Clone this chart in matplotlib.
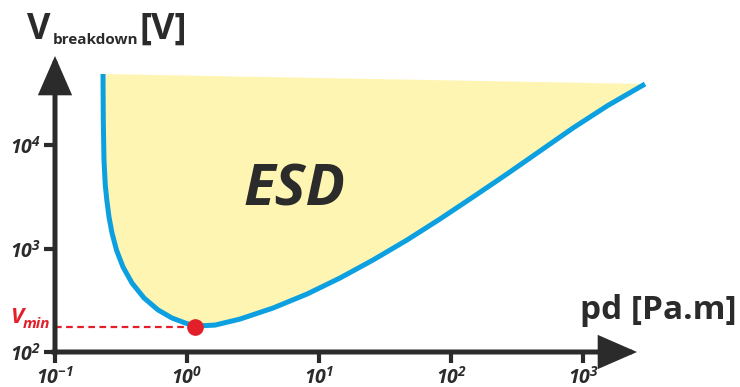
import matplotlib.pyplot as plt

plt.rcParams['font.family'] = ['Open Sans', 'DejaVu Sans']
plt.rcParams['mathtext.fontset'] = 'custom'
plt.rcParams['mathtext.bf'] = 'Open Sans:bold:italic'
plt.rcParams['mathtext.it'] = 'Open Sans:bold:italic'
plt.rcParams['mathtext.rm'] = 'Open Sans:bold:italic'

# Paschen curve, values (pd in Pa.m, V in volt)
pd_vals = [0.2310, 0.2322, 0.2350, 0.2404, 0.2469, 0.2565, 0.2703, 0.2922, 0.3275,
           0.3831, 0.4723, 0.6030, 0.7697, 0.9656, 1.150,
           1.630, 2.520, 4.483, 8.113, 14.43, 25.66, 46.42, 82.54, 146.8, 265.6,
           472.3, 840.0, 1520, 2950]
v_vals = [48530, 17440, 7163, 4107, 2942, 2015, 1412, 967, 663,
          464, 333, 255, 213, 191, 178,
          182, 208, 266, 363, 519, 774, 1208, 1928, 3146, 5247,
          8750, 14600, 23820, 38860]

vmin_pd = 1.15
vmin_v = 175

xticks = [0.1, 1, 10, 100, 1000]
xlabels = [r'$\mathbf{10^{-1}}$', r'$\mathbf{10^{0}}$', r'$\mathbf{10^{1}}$',
           r'$\mathbf{10^{2}}$', r'$\mathbf{10^{3}}$']
yticks = [100, 1000, 10000]
ylabels = [r'$\mathbf{10^{2}}$', r'$\mathbf{10^{3}}$', r'$\mathbf{10^{4}}$']

dark = '#2b2b2b'
blue = '#0ca0e0'
red = '#e3202a'

W, H = 740, 387
fig = plt.figure(figsize=(W / 100, H / 100), dpi=100)
ax = fig.add_axes([55 / W, 35 / H, (637 - 55) / W, (352 - 56) / H])
ax.set_xscale('log')
ax.set_yscale('log')
ax.set_xlim(0.1, 10 ** 3.409)
ax.set_ylim(100, 10 ** 4.860)

# yellow region and curve
ax.fill(pd_vals, v_vals, color='#fff5b3', lw=0, clip_on=False, zorder=1)
ax.plot(pd_vals, v_vals, color=blue, lw=3.6, clip_on=False, zorder=3,
        solid_capstyle='butt', solid_joinstyle='round')

# minimum
ax.plot([0.1, 0.97], [vmin_v, vmin_v], color=red, lw=1.6, ls=(0, (3, 2)), zorder=2)
ax.plot([vmin_pd], [vmin_v], 'o', color=red, ms=11, zorder=4, clip_on=False)

# axes with arrows
for s in ax.spines.values():
    s.set_visible(False)
arrow = dict(arrowstyle='-|>,head_length=1.1,head_width=0.48', lw=3.6, color=dark,
             mutation_scale=20, shrinkA=0, shrinkB=0, joinstyle='miter')
ax.annotate('', xy=(1, 0), xytext=(-0.004, 0), xycoords='axes fraction', arrowprops=arrow)
ax.annotate('', xy=(0, 1), xytext=(0, -0.006), xycoords='axes fraction', arrowprops=arrow)

ax.minorticks_off()
ax.set_xticks(xticks)
ax.set_xticklabels(xlabels)
ax.set_yticks(yticks)
ax.set_yticklabels(ylabels)
ax.tick_params(axis='both', length=8, width=3, color=dark, labelcolor=dark,
               labelsize=14, pad=2)

def px(x, y):
    return x / W, 1 - y / H

fig.text(*px(27, 39), 'V', fontsize=26, fontweight='bold', color=dark, va='baseline')
fig.text(*px(53, 44), 'breakdown', fontsize=11, fontweight='bold', color=dark, va='baseline')
fig.text(*px(140, 39), '[V]', fontsize=26, fontweight='bold', color=dark, va='baseline')
fig.text(*px(737, 319), 'pd [Pa.m]', fontsize=24, fontweight='bold', color=dark,
         va='baseline', ha='right')
fig.text(*px(294, 205), 'ESD', fontsize=42, fontweight='bold', style='italic',
         color=dark, va='baseline', ha='center')
fig.text(*px(11, 323), 'V', fontsize=16, fontweight='bold', style='italic', color=red,
         va='baseline')
fig.text(*px(23, 328), 'min', fontsize=11, fontweight='bold', style='italic', color=red,
         va='baseline')

fig.savefig('out.png', dpi=100)
